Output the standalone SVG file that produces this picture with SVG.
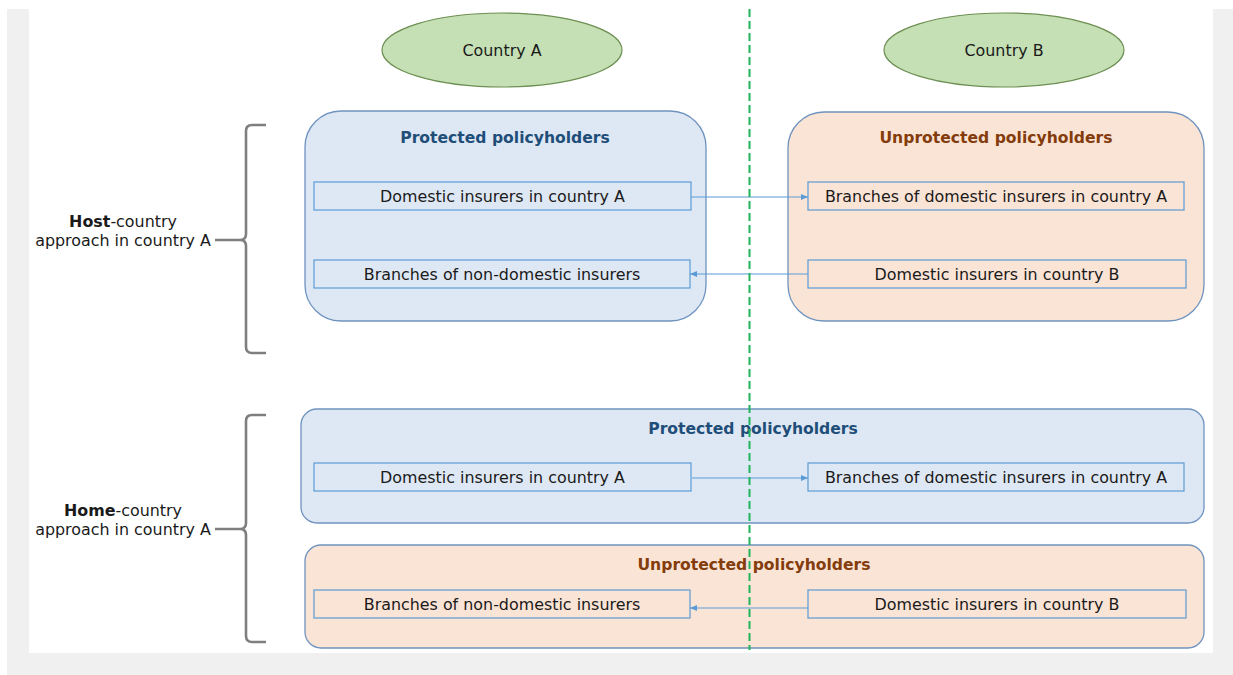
<svg xmlns="http://www.w3.org/2000/svg" width="1233" height="675" viewBox="0 0 1233 675">
<defs>
<style>
.t{font-family:"DejaVu Sans","Liberation Sans",sans-serif;font-size:15.9px;fill:#1a1a1a;text-anchor:middle}
.ttl{font-family:"DejaVu Sans","Liberation Sans",sans-serif;font-size:15.6px;font-weight:bold;text-anchor:middle}
.blue{fill:#1f4e79}
.brown{fill:#843c0c}
.bigb{fill:#dee8f4;stroke:#6f93bf;stroke-width:1.3}
.bigp{fill:#fae4d6;stroke:#6f93bf;stroke-width:1.3}
.inb{fill:#dee8f4;stroke:#5b9bd5;stroke-width:1.2}
.inp{fill:#fae4d6;stroke:#5b9bd5;stroke-width:1.2}
.ell{fill:#c5e0b4;stroke:#6d8f52;stroke-width:1.2}
.con{stroke:#5b9bd5;stroke-width:1.2;fill:none;marker-end:url(#ah)}
.brace{fill:none;stroke:#7f7f7f;stroke-width:2.6;stroke-linejoin:round}
</style>
<marker id="ah" markerUnits="userSpaceOnUse" markerWidth="8" markerHeight="8" refX="7" refY="4" orient="auto">
<path d="M0,1 L7,4 L0,7 Z" fill="#5b9bd5"/>
</marker>
</defs>
<rect x="0" y="0" width="1233" height="675" fill="#ffffff"/>
<path d="M7,9 H29 V653 H1213 V9 H1233 V675 H7 Z" fill="#f0f0f0"/>

<g id="countryA"><ellipse class="ell" cx="502" cy="50" rx="120" ry="37"/><text class="t" x="502" y="55.5">Country A</text></g>
<g id="countryB"><ellipse class="ell" cx="1004" cy="50" rx="120" ry="37"/><text class="t" x="1004" y="55.5">Country B</text></g>

<g id="host-label">
<path class="brace" d="M266,125 H252 Q246,125 246,131 V234 Q246,240 240,240 H215 M240,240 Q246,240 246,246 V347 Q246,353 252,353 H266"/>
<text class="t" x="123" y="226.5"><tspan font-weight="bold">Host</tspan>-country</text>
<text class="t" x="123" y="245.5">approach in country A</text>
</g>
<g id="home-label">
<path class="brace" d="M266,415 H252 Q246,415 246,421 V523 Q246,529 240,529 H215 M240,529 Q246,529 246,535 V636 Q246,642 252,642 H266"/>
<text class="t" x="123" y="515.5"><tspan font-weight="bold">Home</tspan>-country</text>
<text class="t" x="123" y="534.5">approach in country A</text>
</g>

<g id="host-protected">
<rect class="bigb" x="305" y="111" width="401" height="210" rx="36"/>
<text class="ttl blue" x="505" y="142.5">Protected policyholders</text>
</g>
<g id="host-unprotected">
<rect class="bigp" x="788" y="112" width="416" height="209" rx="36"/>
<text class="ttl brown" x="996" y="142.5">Unprotected policyholders</text>
</g>
<g id="host-domA"><rect class="inb" x="314" y="182" width="377" height="28"/><text class="t" x="502.5" y="201.5">Domestic insurers in country A</text></g>
<g id="host-brnonA"><rect class="inb" x="314" y="260" width="376" height="28"/><text class="t" x="502" y="279.5">Branches of non-domestic insurers</text></g>
<g id="host-brdomA"><rect class="inp" x="808" y="182" width="376" height="28"/><text class="t" x="996" y="201.5">Branches of domestic insurers in country A</text></g>
<g id="host-domB"><rect class="inp" x="808" y="260" width="378" height="28"/><text class="t" x="997" y="279.5">Domestic insurers in country B</text></g>

<g id="home-protected">
<rect class="bigb" x="301" y="409" width="903" height="114" rx="16"/>
<text class="ttl blue" x="753" y="433.5">Protected policyholders</text>
</g>
<g id="home-domA"><rect class="inb" x="314" y="463" width="377" height="28"/><text class="t" x="502.5" y="482.5">Domestic insurers in country A</text></g>
<g id="home-brdomA"><rect class="inb" x="808" y="463" width="376" height="28"/><text class="t" x="996" y="482.5">Branches of domestic insurers in country A</text></g>

<g id="home-unprotected">
<rect class="bigp" x="305" y="545" width="899" height="103" rx="16"/>
<text class="ttl brown" x="754" y="569.5">Unprotected policyholders</text>
</g>
<g id="home-brnonA"><rect class="inp" x="314" y="590" width="376" height="28"/><text class="t" x="502" y="609.5">Branches of non-domestic insurers</text></g>
<g id="home-domB"><rect class="inp" x="808" y="590" width="378" height="28"/><text class="t" x="997" y="609.5">Domestic insurers in country B</text></g>

<g id="connectors">
<line class="con" x1="691" y1="197" x2="808" y2="197"/>
<line class="con" x1="808" y1="274" x2="690" y2="274"/>
<line class="con" x1="692" y1="478" x2="808" y2="478"/>
<line class="con" x1="808" y1="608" x2="690" y2="608"/>
</g>

<line id="border" x1="749.5" y1="9" x2="749.5" y2="650" stroke="#1fb45a" stroke-width="2" stroke-dasharray="8,4"/>
</svg>
